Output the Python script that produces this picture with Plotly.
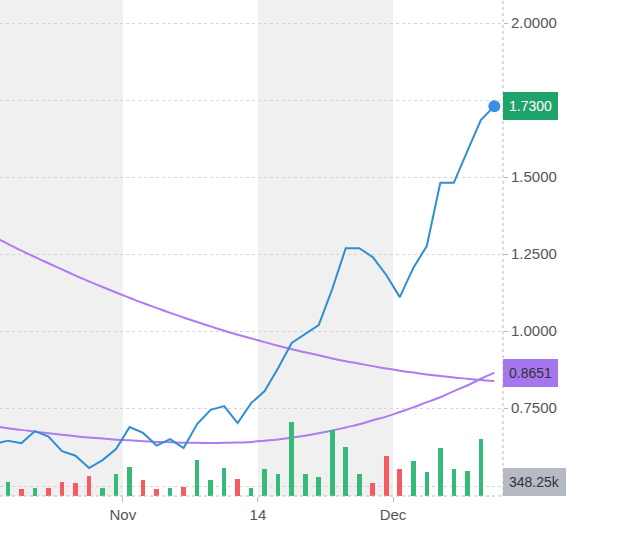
import plotly.graph_objects as go

# ---------------- data ----------------
# x positions are trading-period indices; ticks fall between periods
price_x = list(range(-1, 37))
price = [0.633, 0.644, 0.636, 0.675, 0.657, 0.610, 0.595, 0.555, 0.581, 0.617,
         0.688, 0.669, 0.628, 0.649, 0.620, 0.698, 0.744, 0.756, 0.701, 0.766,
         0.805, 0.880, 0.961, 0.990, 1.019, 1.136, 1.269, 1.269, 1.240, 1.182,
         1.110, 1.205, 1.276, 1.481, 1.481, 1.584, 1.685, 1.730]

ma_slow = [1.305, 1.283, 1.261, 1.240, 1.220, 1.200, 1.180, 1.161, 1.143, 1.125,
           1.108, 1.091, 1.075, 1.059, 1.044, 1.029, 1.015, 1.001, 0.988, 0.976,
           0.964, 0.952, 0.941, 0.931, 0.921, 0.911, 0.902, 0.894, 0.886, 0.878,
           0.871, 0.865, 0.859, 0.854, 0.849, 0.845, 0.841, 0.838]

ma_fast = [0.691, 0.684, 0.679, 0.673, 0.668, 0.663, 0.658, 0.654, 0.651, 0.647,
           0.645, 0.642, 0.640, 0.639, 0.637, 0.637, 0.636, 0.637, 0.638, 0.640,
           0.644, 0.648, 0.654, 0.660, 0.668, 0.677, 0.687, 0.697, 0.710, 0.722,
           0.737, 0.752, 0.769, 0.785, 0.805, 0.823, 0.845, 0.8651]

vol_x = list(range(0, 36))
volume_k = [498, 233, 278, 278, 498, 442, 696, 278, 766, 1020,
            557, 233, 278, 324, 1242, 557, 974, 602, 278, 929,
            766, 2575, 766, 651, 2297, 1716, 766, 442, 1402, 929,
            1208, 825, 1670, 940, 880, 1994]
vol_dir = ["up", "down", "up", "down", "down", "down", "down", "up", "up", "up",
           "down", "down", "up", "down", "up", "up", "up", "down", "up", "up",
           "up", "up", "up", "up", "up", "up", "up", "down", "down", "down",
           "up", "up", "up", "up", "up", "up"]
last_volume_k = 348.25

tick_pos = [8.5, 18.5, 28.5]
tick_labels = ["Nov", "14", "Dec"]
price_ticks = [0.75, 1.0, 1.25, 1.5, 1.75, 2.0]
price_tick_text = ["0.7500", "1.0000", "1.2500", "1.5000", "", "2.0000"]
shade_bands = [(-0.59, 8.5), (18.5, 28.5)]

# ---------------- styles ----------------
UP, DOWN = "#35ba78", "#f65b61"
BLUE = "#2e8fd3"
PURPLE = "#b07af0"
FONT = "Liberation Sans, Arial, sans-serif"
TXT = "#555555"

fig = go.Figure()

fig.add_trace(go.Bar(
    x=vol_x, y=volume_k, yaxis="y2",
    marker=dict(color=[UP if d == "up" else DOWN for d in vol_dir], line=dict(width=0)),
    width=0.34, hoverinfo="skip", showlegend=False))

fig.add_trace(go.Scatter(x=price_x, y=ma_slow, mode="lines",
                         line=dict(color=PURPLE, width=2, shape="spline"),
                         showlegend=False, hoverinfo="skip"))
fig.add_trace(go.Scatter(x=price_x, y=ma_fast, mode="lines",
                         line=dict(color=PURPLE, width=2, shape="spline"),
                         showlegend=False, hoverinfo="skip"))
fig.add_trace(go.Scatter(x=price_x, y=price, mode="lines",
                         line=dict(color=BLUE, width=2),
                         showlegend=False, hoverinfo="skip"))
fig.add_trace(go.Scatter(x=[price_x[-1]], y=[price[-1]], mode="markers",
                         marker=dict(color="#3a8ee6", size=12),
                         showlegend=False, hoverinfo="skip"))

shapes = []
for x0, x1 in shade_bands:
    shapes.append(dict(type="rect", xref="x", yref="paper", x0=x0, x1=x1, y0=0, y1=1,
                       fillcolor="#f0f0f0", line=dict(width=0), layer="below"))
# dotted axis lines
shapes.append(dict(type="line", xref="paper", yref="paper", x0=1, x1=1, y0=0, y1=1,
                   line=dict(color="#b8b8c0", width=1, dash="dot")))
shapes.append(dict(type="line", xref="paper", yref="paper", x0=0, x1=1, y0=0, y1=0,
                   line=dict(color="#b8b8c0", width=1, dash="dot")))

annotations = [
    dict(xref="paper", yref="y", x=1, y=price[-1], xanchor="left", yanchor="middle",
         text=f"{price[-1]:.4f}", showarrow=False, bgcolor="#1fa36a", bordercolor="#1fa36a",
         borderpad=5, font=dict(color="white", size=14, family=FONT)),
    dict(xref="paper", yref="y", x=1, y=ma_fast[-1], xanchor="left", yanchor="middle",
         text=f"{ma_fast[-1]:.4f}", showarrow=False, bgcolor="#a676ef", bordercolor="#a676ef",
         borderpad=5, font=dict(color="#333333", size=14, family=FONT)),
    dict(xref="paper", yref="y2", x=1, y=last_volume_k, xanchor="left", yanchor="middle",
         yshift=4, text=f"{last_volume_k:.2f}k", showarrow=False, bgcolor="#b6bac2",
         bordercolor="#b6bac2", borderpad=5, font=dict(color="#333333", size=14, family=FONT)),
]

fig.update_layout(
    width=640, height=542,
    margin=dict(l=0, r=137, t=0, b=46),
    paper_bgcolor="white", plot_bgcolor="white",
    font=dict(family=FONT, size=14, color=TXT),
    bargap=0,
    xaxis=dict(range=[-0.59, 36.64], showgrid=False, zeroline=False,
               tickmode="array", tickvals=tick_pos, ticktext=tick_labels,
               ticks="outside", ticklen=5, tickcolor="#b8b8c0",
               tickfont=dict(size=15, color=TXT), showline=False),
    yaxis=dict(range=[0.4643, 2.0747], side="right", tickmode="array",
               tickvals=price_ticks, ticktext=price_tick_text,
               showgrid=True, gridcolor="#d4d4d4", griddash="dot", gridwidth=1,
               zeroline=False, ticks="outside", ticklen=4, tickcolor="#b8b8c0",
               tickfont=dict(size=15, color=TXT), showline=False),
    yaxis2=dict(range=[0, 17273], overlaying="y", side="right", showticklabels=False,
                tickmode="array", tickvals=[last_volume_k], showgrid=True,
                gridcolor="#d4d4d4", griddash="dot", zeroline=False, showline=False),
    shapes=shapes, annotations=annotations,
)

fig.write_html("out.html")
